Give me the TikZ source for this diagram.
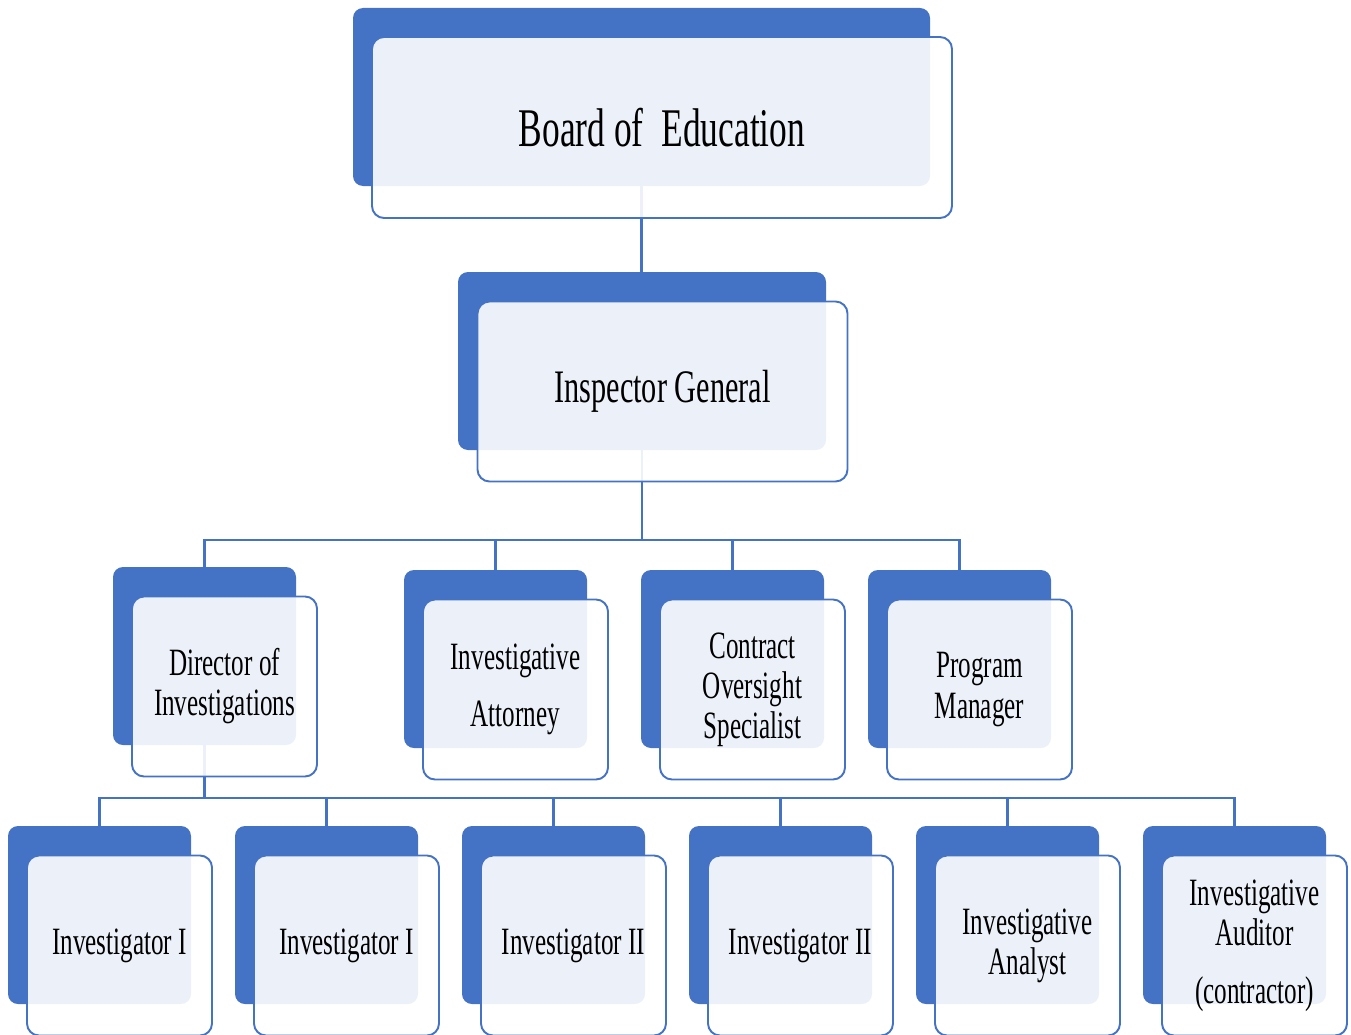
\documentclass[tikz,border=0pt]{standalone}
\usepackage{fontspec}
\setmainfont[FakeStretch=0.65]{Liberation Serif}
\usepackage{tikz}
\usetikzlibrary{calc}
\definecolor{orgblue}{HTML}{4472C4}

\begin{document}
\begin{tikzpicture}[
        back/.style={rectangle, rounded corners=0.2cm, fill=orgblue, inner sep=0pt, minimum width=3.66cm, minimum height=3.56cm},
        front/.style={rectangle, rounded corners=0.24cm, draw=orgblue, line width=1.1pt, fill=white, fill opacity=0.9, text opacity=1, inner sep=0pt, minimum width=3.7cm, minimum height=3.6cm, align=center, font=\fontsize{22}{22.8}\selectfont},
        link/.style={draw=orgblue, line width=1.4pt}
    ]
        \useasboundingbox (0.0, 0.0) rectangle (27.02, -20.7); % page

        % back plates
        \node [back, minimum width=11.54cm] (board) at (12.83, -1.94) {};
        \node [back, minimum width=7.36cm] (ig) at (12.84, -7.22) {};
        \node [back] (dir) at (4.09, -13.12) {};
        \node [back] (att) at (9.91, -13.18) {};
        \node [back] (con) at (14.65, -13.18) {};
        \node [back] (prog) at (19.19, -13.18) {};
        \foreach \name/\x in {inv1/1.99, inv2/6.53, inv3/11.07, inv4/15.61, ana/20.15, aud/24.69}
            \node [back] (\name) at (\x, -18.3) {};

        % connectors
        \coordinate (bus-a) at (0.0, -10.8);
        \coordinate (bus-b) at (0.0, -15.96);
        \draw [link] (board.south) -- (board.south |- ig.north);
        \foreach \name in {dir, att, con, prog}
            \draw [link] (ig.south) -- (ig.south |- bus-a) -| (\name.north);
        \foreach \name in {inv1, inv2, inv3, inv4, ana, aud}
            \draw [link] (dir.south) -- (dir.south |- bus-b) -| (\name.north);

        % front plates
        \node [front, minimum width=11.6cm, minimum height=3.62cm, font=\fontsize{31}{32}\selectfont] (board-f) at ($(board)+(0.41, -0.61)$) {Board of\, Education};
        \node [front, minimum width=7.4cm, font=\fontsize{26.5}{28}\selectfont] (ig-f) at ($(ig)+(0.41, -0.61)$) {Inspector General};
        \node [front] (dir-f) at ($(dir)+(0.4, -0.61)$) {Director of\\Investigations};
        \node [front] (att-f) at ($(att)+(0.4, -0.61)$) {Investigative\\[0.34cm]Attorney};
        \node [front] (con-f) at ($(con)+(0.4, -0.61)$) {Contract\\Oversight\\Specialist};
        \node [front] (prog-f) at ($(prog)+(0.4, -0.61)$) {Program\\Manager};
        \node [front] (inv1-f) at ($(inv1)+(0.4, -0.61)$) {Investigator I};
        \node [front] (inv2-f) at ($(inv2)+(0.4, -0.61)$) {Investigator I};
        \node [front] (inv3-f) at ($(inv3)+(0.4, -0.61)$) {Investigator II};
        \node [front] (inv4-f) at ($(inv4)+(0.4, -0.61)$) {Investigator II};
        \node [front] (ana-f) at ($(ana)+(0.4, -0.61)$) {Investigative\\Analyst};
        \node [front] (aud-f) at ($(aud)+(0.4, -0.61)$) {Investigative\\Auditor\\[0.36cm](contractor)};
    \end{tikzpicture}
\end{document}
